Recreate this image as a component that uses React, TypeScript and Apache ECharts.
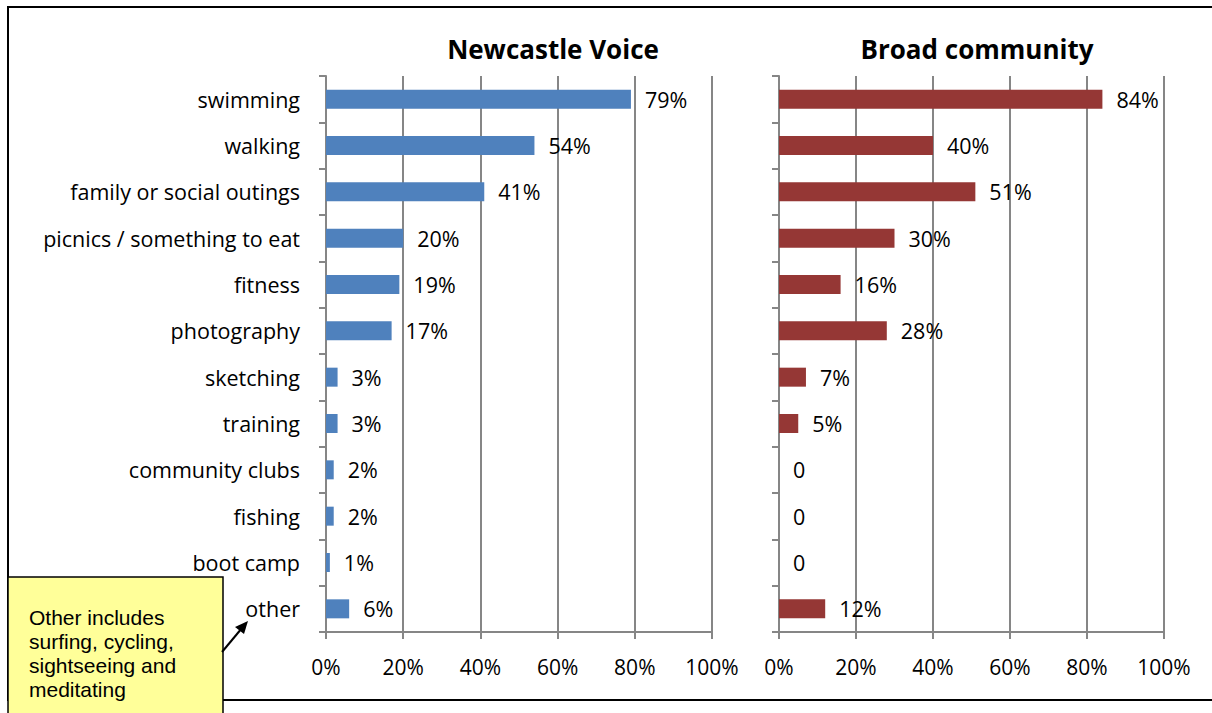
import React, { useEffect, useRef } from "react";
import * as echarts from "echarts";

const categories = [
  "swimming",
  "walking",
  "family or social outings",
  "picnics / something to eat",
  "fitness",
  "photography",
  "sketching",
  "training",
  "community clubs",
  "fishing",
  "boot camp",
  "other",
];
const newcastleVoice = [79, 54, 41, 20, 19, 17, 3, 3, 2, 2, 1, 6];
const broadCommunity = [84, 40, 51, 30, 16, 28, 7, 5, 0, 0, 0, 12];
const panelTitles = ["Newcastle Voice", "Broad community"];
const noteLines = ["Other includes", "surfing, cycling,", "sightseeing and", "meditating"];

const FONT = "'Open Sans', 'DejaVu Sans', sans-serif";

export default function App() {
  const ref = useRef<HTMLDivElement>(null);
  useEffect(() => {
    if (!ref.current) return;
    const chart = echarts.init(ref.current, undefined, { renderer: "svg" });
    const grids = [
      { left: 326, right: 500, top: 76, bottom: 81 },
      { left: 779, right: 48, top: 76, bottom: 81 },
    ];
    const xAxis = grids.map((_, i) => ({
      type: "value",
      gridIndex: i,
      min: 0,
      max: 100,
      interval: 20,
      axisLine: { show: true, lineStyle: { color: "#868686", width: 2 } },
      axisTick: { show: true, length: 7, lineStyle: { color: "#868686", width: 2 } },
      axisLabel: {
        formatter: (v: number) => v + "%",
        fontFamily: FONT,
        fontSize: 21,
        color: "#000",
        margin: 24,
      },
      splitLine: { show: true, lineStyle: { color: "#868686", width: 2 } },
    }));
    const yAxis = grids.map((_, i) => ({
      type: "category",
      gridIndex: i,
      data: categories,
      inverse: true,
      axisLine: { show: true, lineStyle: { color: "#868686", width: 2 } },
      axisTick: { show: true, length: 7, alignWithLabel: false, lineStyle: { color: "#868686", width: 2 } },
      axisLabel: {
        show: i === 0,
        fontFamily: FONT,
        fontSize: 21.5,
        color: "#000",
        margin: 26,
      },
      splitLine: { show: false },
    }));
    const mkSeries = (data: number[], idx: number, color: string) => ({
      type: "bar",
      xAxisIndex: idx,
      yAxisIndex: idx,
      data,
      barWidth: 19,
      itemStyle: { color },
      label: {
        show: true,
        position: "right",
        distance: 14,
        fontFamily: FONT,
        fontSize: 21.5,
        color: "#000",
        formatter: (p: any) => (p.value === 0 ? "0" : p.value + "%"),
      },
    });
    const lineH = 24;
    const titleStyle = { fontFamily: FONT, fontSize: 26, fontWeight: "bold", color: "#000" };
    chart.setOption({
      animation: false,
      backgroundColor: "#fff",
      title: [
        { text: panelTitles[0], left: 548, top: 31, textAlign: "center", textStyle: titleStyle },
        { text: panelTitles[1], left: 972, top: 31, textAlign: "center", textStyle: titleStyle },
      ],
      grid: grids,
      xAxis,
      yAxis,
      series: [mkSeries(newcastleVoice, 0, "#4F81BD"), mkSeries(broadCommunity, 1, "#953735")],
      graphic: [
        {
          type: "rect",
          shape: { x: 8, y: 7, width: 1230, height: 693 },
          style: { fill: "none", stroke: "#000", lineWidth: 2 },
          z: 10,
        },
        {
          type: "rect",
          shape: { x: 8, y: 577, width: 215, height: 150 },
          style: { fill: "#FFFF99", stroke: "#000", lineWidth: 1.5 },
          z: 20,
        },
        {
          type: "text",
          x: 29,
          y: 605,
          style: {
            text: noteLines.join("\n"),
            font: "21px 'Liberation Sans', Arial, sans-serif",
            lineHeight: lineH,
            fill: "#000",
          },
          z: 21,
        },
        {
          type: "line",
          shape: { x1: 222, y1: 652, x2: 242, y2: 628 },
          style: { stroke: "#000", lineWidth: 2 },
          z: 21,
        },
        {
          type: "polygon",
          shape: { points: [[248, 621], [235, 627], [244, 634]] },
          style: { fill: "#000" },
          z: 21,
        },
      ],
    });
    return () => chart.dispose();
  }, []);
  return (
    <div
      ref={ref}
      style={{ position: "absolute", left: 0, top: 0, width: 1212, height: 713 }}
    />
  );
}
